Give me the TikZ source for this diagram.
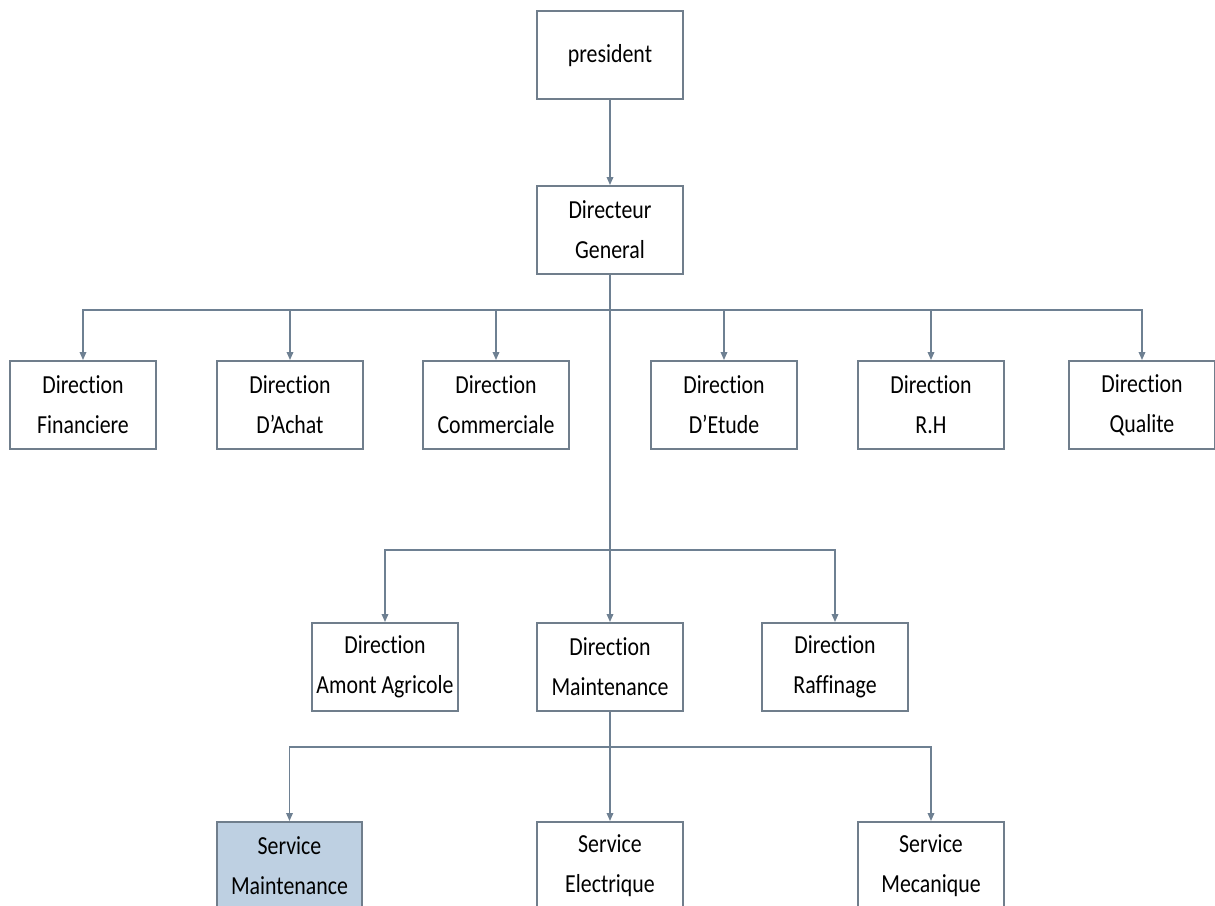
\documentclass[tikz,border=0pt]{standalone}
\usepackage{fontspec}
\setmainfont{Carlito}[FakeStretch=0.84,Ligatures=NoCommon]
\usepackage{xcolor}
\usetikzlibrary{arrows.meta,positioning}

\definecolor{edgegrey}{RGB}{110,128,146}
\definecolor{boxgrey}{RGB}{112,126,140}
\definecolor{servblue}{RGB}{190,208,226}

\begin{document}
\begin{tikzpicture}[x=0.75pt,y=-0.75pt,
  unit/.style={draw=boxgrey,line width=1.5pt,fill=white,minimum width=109pt,minimum height=66pt,
    align=center,inner sep=2pt,font=\fontsize{19.5}{30}\selectfont},
  link/.style={draw=edgegrey,line width=1pt,-{Triangle[length=6pt,width=5pt]}}]
%set diagram frame
\useasboundingbox (0,0) rectangle (1215,906);

% Top
\node[unit] (pres) at (610,55.5) {president};
\node[unit] (dg) at (610,230) {Directeur\\General};

% Directions
\node[unit] (fin) at (83,405) {Direction\\Financiere};
\node[unit] (ach) at (290,405) {Direction\\D'Achat};
\node[unit] (com) at (496,405) {Direction\\Commerciale};
\node[unit] (etu) at (724,405) {Direction\\D'Etude};
\node[unit] (rh) at (931,405) {Direction\\R.H};
\node[unit] (qua) at (1142,405) {Direction\\Qualite};

% Production side
\node[unit] (amo) at (385,667) {Direction\\Amont Agricole};
\node[unit] (dm) at (610,667) {Direction\\Maintenance};
\node[unit] (raf) at (835,667) {Direction\\Raffinage};

% Services
\node[unit,fill=servblue] (smt) at (289.5,866) {Service\\Maintenance};
\node[unit] (sel) at (610,866) {Service\\Electrique};
\node[unit] (smc) at (931,866) {Service\\Mecanique};

% bus lines
\coordinate (bus1) at (0,310);
\coordinate (bus2) at (0,550);
\coordinate (bus3) at (0,747);

% Connectors
\draw[link] (pres) -- (dg);
\draw[link] (dg.south) -- (dm.north);
\foreach \d in {fin,ach,com,etu,rh,qua}
  \draw[link] (bus1 -| dg.south) -| (\d);
\foreach \d in {amo,raf}
  \draw[link] (bus2 -| dg.south) -| (\d);
\draw[link] (dm.south) -- (sel.north);
\foreach \d in {smt,smc}
  \draw[link] (bus3 -| dm.south) -| (\d);

\end{tikzpicture}
\end{document}
